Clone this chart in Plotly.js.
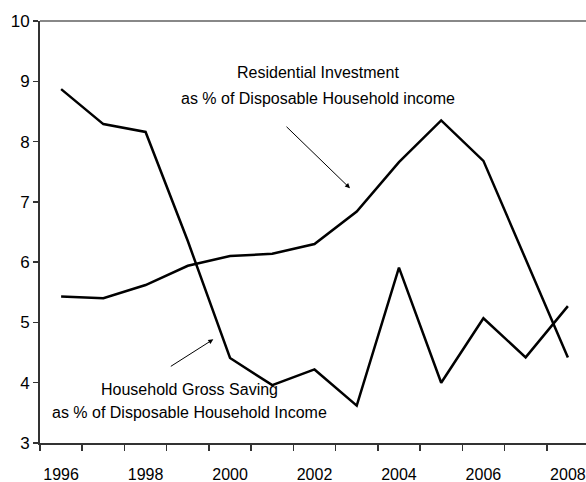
<!DOCTYPE html>
<html>
<head>
<meta charset="utf-8">
<script src="https://cdn.plot.ly/plotly-3.0.1.min.js"></script>
<style>
html,body{margin:0;padding:0;overflow:hidden;background:#fff;}
#chart{width:590px;height:482px;}
</style>
</head>
<body>
<div id="chart"></div>
<script>
const years = ['1996','1997','1998','1999','2000','2001','2002','2003','2004','2005','2006','2007','2008'];
const tickLabels = ['1996','','1998','','2000','','2002','','2004','','2006','','2008'];
const savingPct = [8.87, 8.29, 8.16, 6.35, 4.41, 3.96, 4.22, 3.62, 5.91, 4.00, 5.07, 4.42, 5.27];
const investmentPct = [5.43, 5.40, 5.62, 5.94, 6.10, 6.14, 6.30, 6.84, 7.66, 8.35, 7.68, 6.05, 4.42];

const font = {family: 'Liberation Sans, Arial, sans-serif', size: 16, color: '#000'};

const traces = [
  {x: years, y: savingPct, type: 'scatter', mode: 'lines',
   line: {color: '#000', width: 2.5}, name: 'Household Gross Saving', hoverinfo: 'x+y'},
  {x: years, y: investmentPct, type: 'scatter', mode: 'lines',
   line: {color: '#000', width: 2.5}, name: 'Residential Investment', hoverinfo: 'x+y'}
];

const layout = {
  width: 590, height: 482,
  margin: {l: 40, r: 1, t: 21, b: 39},
  paper_bgcolor: '#fff', plot_bgcolor: '#fff',
  showlegend: false,
  font: font,
  xaxis: {
    type: 'category', range: [-0.5, 12.5],
    tickmode: 'array', tickvals: years, ticktext: tickLabels,
    tickson: 'boundaries', ticks: 'outside', ticklen: 6, tickwidth: 1.5, tickcolor: '#333',
    showline: true, linecolor: '#333', linewidth: 2,
    showgrid: false, zeroline: false,
    tickangle: 0, automargin: false,
    ticklabelstandoff: 16,
    tickfont: font
  },
  yaxis: {
    range: [3, 10], dtick: 1, tick0: 3,
    ticks: 'outside', ticklen: 5, tickwidth: 1.5, tickcolor: '#333',
    showline: true, linecolor: '#333', linewidth: 2,
    showgrid: false, zeroline: false, automargin: false,
    tickfont: {family: font.family, size: 17, color: '#000'}
  },
  shapes: [
    {type: 'line', xref: 'paper', yref: 'paper', x0: 0, x1: 1, y0: 1, y1: 1,
     line: {color: '#888', width: 2}}
  ],
  annotations: [
    {xref: 'paper', yref: 'y', x: 0.5056, y: 9.14, text: 'Residential Investment',
     showarrow: false, font: font, xanchor: 'center', yanchor: 'middle'},
    {xref: 'paper', yref: 'y', x: 0.5056, y: 8.72, text: 'as % of Disposable Household income',
     showarrow: false, font: font, xanchor: 'center', yanchor: 'middle'},
    {xref: 'paper', yref: 'y', x: 0.2727, y: 3.88, text: 'Household Gross Saving',
     showarrow: false, font: font, xanchor: 'center', yanchor: 'middle'},
    {xref: 'paper', yref: 'y', x: 0.2727, y: 3.50, text: 'as % of Disposable Household Income',
     showarrow: false, font: font, xanchor: 'center', yanchor: 'middle'},
    {xref: 'paper', yref: 'y', x: 0.5647, y: 7.225, text: '', showarrow: true,
     axref: 'pixel', ayref: 'pixel', ax: -65, ay: -63,
     arrowhead: 2, arrowsize: 1, arrowwidth: 1, arrowcolor: '#000', standoff: 0},
    {xref: 'paper', yref: 'y', x: 0.3157, y: 4.72, text: '', showarrow: true,
     axref: 'pixel', ayref: 'pixel', ax: -44, ay: 28,
     arrowhead: 2, arrowsize: 1, arrowwidth: 1, arrowcolor: '#000', standoff: 0}
  ]
};

Plotly.newPlot('chart', traces, layout, {displayModeBar: false, staticPlot: true});
</script>
</body>
</html>
